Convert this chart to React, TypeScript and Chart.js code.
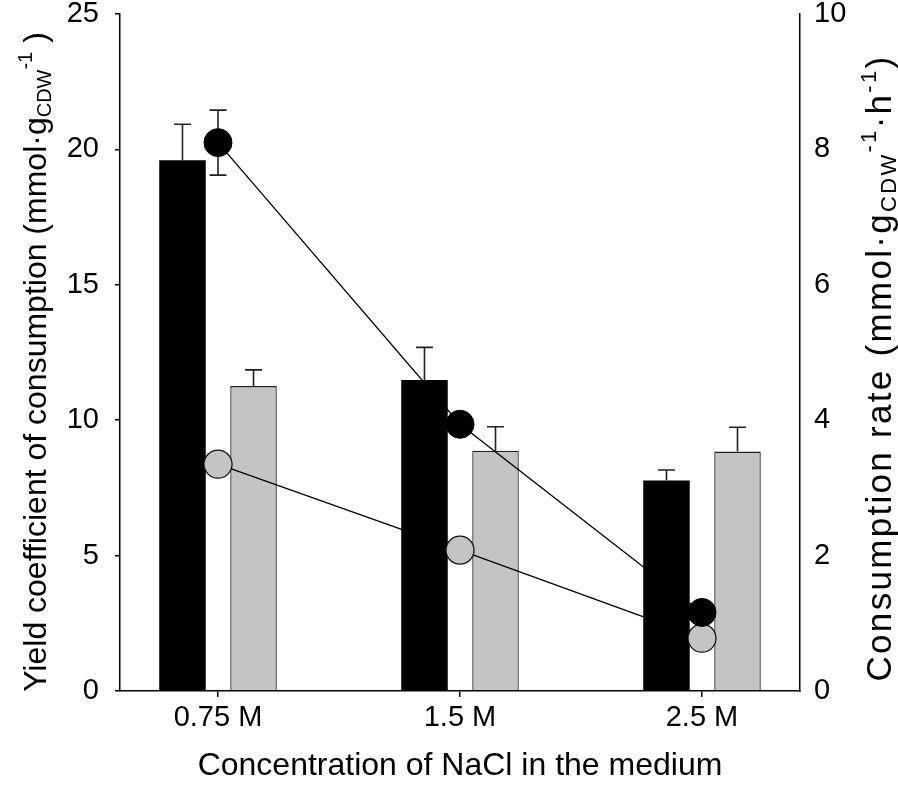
import React, { useEffect, useRef } from "react";
import { Chart, registerables } from "chart.js";

Chart.register(...registerables);

// ---- data ----
const categories = ["0.75 M", "1.5 M", "2.5 M"];
const categoryPositions = [0, 1, 2];
const yieldBlack = [19.6, 11.48, 7.77];
const yieldBlackErr = [1.33, 1.21, 0.39];
const yieldGrey = [11.26, 8.87, 8.84];
const yieldGreyErr = [0.6, 0.89, 0.9];
const rateBlack = [8.1, 3.94, 1.16];
const rateBlackErr = [0.48, 0, 0];
const rateGrey = [3.35, 2.08, 0.78];
const rateGreyErr = [0, 0, 0];
const leftTickStep = 5;
const rightTickStep = 2;

const FONT = "'Liberation Sans', Arial, Helvetica, sans-serif";
const GREY = "#c4c4c4";

type Part = { text: string; size: number; dy: number };

function drawRich(ctx: CanvasRenderingContext2D, parts: Part[], spacing = 0) {
  const c: any = ctx;
  c.letterSpacing = `${spacing}px`;
  let total = 0;
  const widths: number[] = [];
  for (const p of parts) {
    ctx.font = `${p.size}px ${FONT}`;
    const w = ctx.measureText(p.text).width;
    widths.push(w);
    total += w;
  }
  let x = -total / 2;
  parts.forEach((p, i) => {
    ctx.font = `${p.size}px ${FONT}`;
    ctx.fillText(p.text, x, p.dy);
    x += widths[i];
  });
  c.letterSpacing = "0px";
}

const errorsByDataset: number[][] = [yieldBlackErr, yieldGreyErr, rateBlackErr, rateGreyErr];
const valuesByDataset: number[][] = [yieldBlack, yieldGrey, rateBlack, rateGrey];

function drawErrors(chart: any, index: number, both: boolean) {
  const meta = chart.getDatasetMeta(index);
  const yScale = chart.scales[meta.yAxisID];
  const ctx = chart.ctx as CanvasRenderingContext2D;
  const errs = errorsByDataset[index];
  const vals = valuesByDataset[index];
  ctx.save();
  ctx.strokeStyle = "#222";
  ctx.lineWidth = 1.6;
  meta.data.forEach((el: any, i: number) => {
    const e = errs[i];
    if (!e) return;
    const x = el.x;
    const top = yScale.getPixelForValue(vals[i] + e);
    const bottom = both ? yScale.getPixelForValue(vals[i] - e) : yScale.getPixelForValue(vals[i]);
    const cap = 8.5;
    ctx.beginPath();
    ctx.moveTo(x, bottom);
    ctx.lineTo(x, top);
    ctx.moveTo(x - cap, top);
    ctx.lineTo(x + cap, top);
    if (both) {
      ctx.moveTo(x - cap, bottom);
      ctx.lineTo(x + cap, bottom);
    }
    ctx.stroke();
  });
  ctx.restore();
}

const customPlugin = {
  id: "customDecor",
  afterDatasetDraw(chart: any, args: any) {
    if (args.index === 0 || args.index === 1) drawErrors(chart, args.index, false);
  },
  beforeDatasetDraw(chart: any, args: any) {
    if (args.index === 2 || args.index === 3) drawErrors(chart, args.index, true);
  },
  afterDraw(chart: any) {
    const ctx = chart.ctx as CanvasRenderingContext2D;
    ctx.save();
    ctx.fillStyle = "#000";
    ctx.textBaseline = "alphabetic";
    ctx.textAlign = "left";
    // left title
    ctx.save();
    ctx.translate(46, 362);
    ctx.rotate(-Math.PI / 2);
    drawRich(ctx, [
      { text: "Yield coefficient of consumption (mmol\u00B7g", size: 32, dy: 0 },
      { text: "CDW", size: 20, dy: 5 },
      { text: "-1", size: 20, dy: -14 },
      { text: " )", size: 32, dy: 0 },
    ]);
    ctx.restore();
    // right title
    ctx.save();
    ctx.translate(891, 368);
    ctx.rotate(-Math.PI / 2);
    drawRich(
      ctx,
      [
        { text: "Consumption rate (mmol\u00B7g", size: 35, dy: 0 },
        { text: "CDW", size: 22, dy: 5 },
        { text: "-1", size: 22, dy: -15 },
        { text: "\u00B7h", size: 35, dy: 0 },
        { text: "-1", size: 22, dy: -15 },
        { text: ")", size: 35, dy: 0 },
      ],
      2.3
    );
    ctx.restore();
    // x title
    ctx.save();
    ctx.translate(460, 775);
    drawRich(ctx, [{ text: "Concentration of NaCl in the medium", size: 32, dy: 0 }]);
    ctx.restore();
    ctx.restore();
  },
};

export default function App() {
  const ref = useRef<HTMLCanvasElement | null>(null);
  useEffect(() => {
    document.body.style.margin = "0";
    const canvas = ref.current;
    if (!canvas) return;
    Chart.defaults.font.family = FONT;
    const chart = new Chart(canvas, {
      type: "bar",
      data: {
        datasets: [
          {
            type: "bar",
            data: categoryPositions.map((x, i) => ({ x, y: yieldBlack[i] })),
            backgroundColor: "#000",
            borderWidth: 0,
            yAxisID: "y",
            order: 2,
            categoryPercentage: 0.587,
            barPercentage: 0.655,
          } as any,
          {
            type: "bar",
            data: categoryPositions.map((x, i) => ({ x, y: yieldGrey[i] })),
            backgroundColor: GREY,
            borderColor: "#222",
            borderWidth: 1.3,
            yAxisID: "y",
            order: 2,
            categoryPercentage: 0.587,
            barPercentage: 0.655,
          } as any,
          {
            type: "line",
            data: categoryPositions.map((x, i) => ({ x, y: rateBlack[i] })),
            borderColor: "#000",
            borderWidth: 1.3,
            pointRadius: 14,
            pointBackgroundColor: "#000",
            pointBorderColor: "#000",
            pointBorderWidth: 1,
            yAxisID: "y1",
            order: 1,
            tension: 0,
          } as any,
          {
            type: "line",
            data: categoryPositions.map((x, i) => ({ x, y: rateGrey[i] })),
            borderColor: "#000",
            borderWidth: 1.3,
            pointRadius: 14,
            pointBackgroundColor: GREY,
            pointBorderColor: "#111",
            pointBorderWidth: 1.3,
            yAxisID: "y1",
            order: 1,
            tension: 0,
          } as any,
        ],
      },
      options: {
        responsive: false,
        animation: false,
        layout: { padding: { top: 14, left: 0, right: 0, bottom: 0 }, autoPadding: false } as any,
        plugins: { legend: { display: false }, tooltip: { enabled: false } },
        scales: {
          x: {
            type: "linear",
            position: "bottom",
            min: -0.405,
            max: 2.405,
            offset: false,
            afterBuildTicks: (s: any) => {
              s.ticks = categoryPositions.map((v) => ({ value: v }));
            },
            ticks: {
              callback: (v: any) => {
                const i = categoryPositions.indexOf(Number(v));
                return i >= 0 ? categories[i] : "";
              },
              font: { size: 29 },
              color: "#000",
              padding: 4,
              maxRotation: 0,
              autoSkip: false,
            },
            grid: { drawOnChartArea: false, drawTicks: true, tickLength: 6, color: "#000", lineWidth: 1.5, offset: false },
            border: { display: true, color: "#000", width: 1.5 },
            afterFit: (s: any) => {
              s.height = 97;
              s.paddingLeft = 0;
              s.paddingRight = 0;
            },
          } as any,
          y: {
            position: "left",
            min: 0,
            max: 25,
            ticks: { stepSize: leftTickStep, font: { size: 29 }, color: "#000", padding: 16 },
            grid: { drawOnChartArea: false, drawTicks: true, tickLength: 5, color: "#000", lineWidth: 1.5 },
            border: { display: true, color: "#000", width: 1.5 },
            afterFit: (s: any) => {
              s.width = 120;
              s.paddingTop = 0;
              s.paddingBottom = 0;
            },
          } as any,
          y1: {
            position: "right",
            min: 0,
            max: 10,
            ticks: { stepSize: rightTickStep, font: { size: 29 }, color: "#000", padding: 14 },
            grid: { drawOnChartArea: false, drawTicks: false, color: "#000" },
            border: { display: true, color: "#000", width: 1.5 },
            afterFit: (s: any) => {
              s.width = 98;
              s.paddingTop = 0;
              s.paddingBottom = 0;
            },
          } as any,
        },
      },
      plugins: [customPlugin],
    });
    return () => chart.destroy();
  }, []);
  return <canvas ref={ref} width={898} height={788} style={{ display: "block" }} />;
}
